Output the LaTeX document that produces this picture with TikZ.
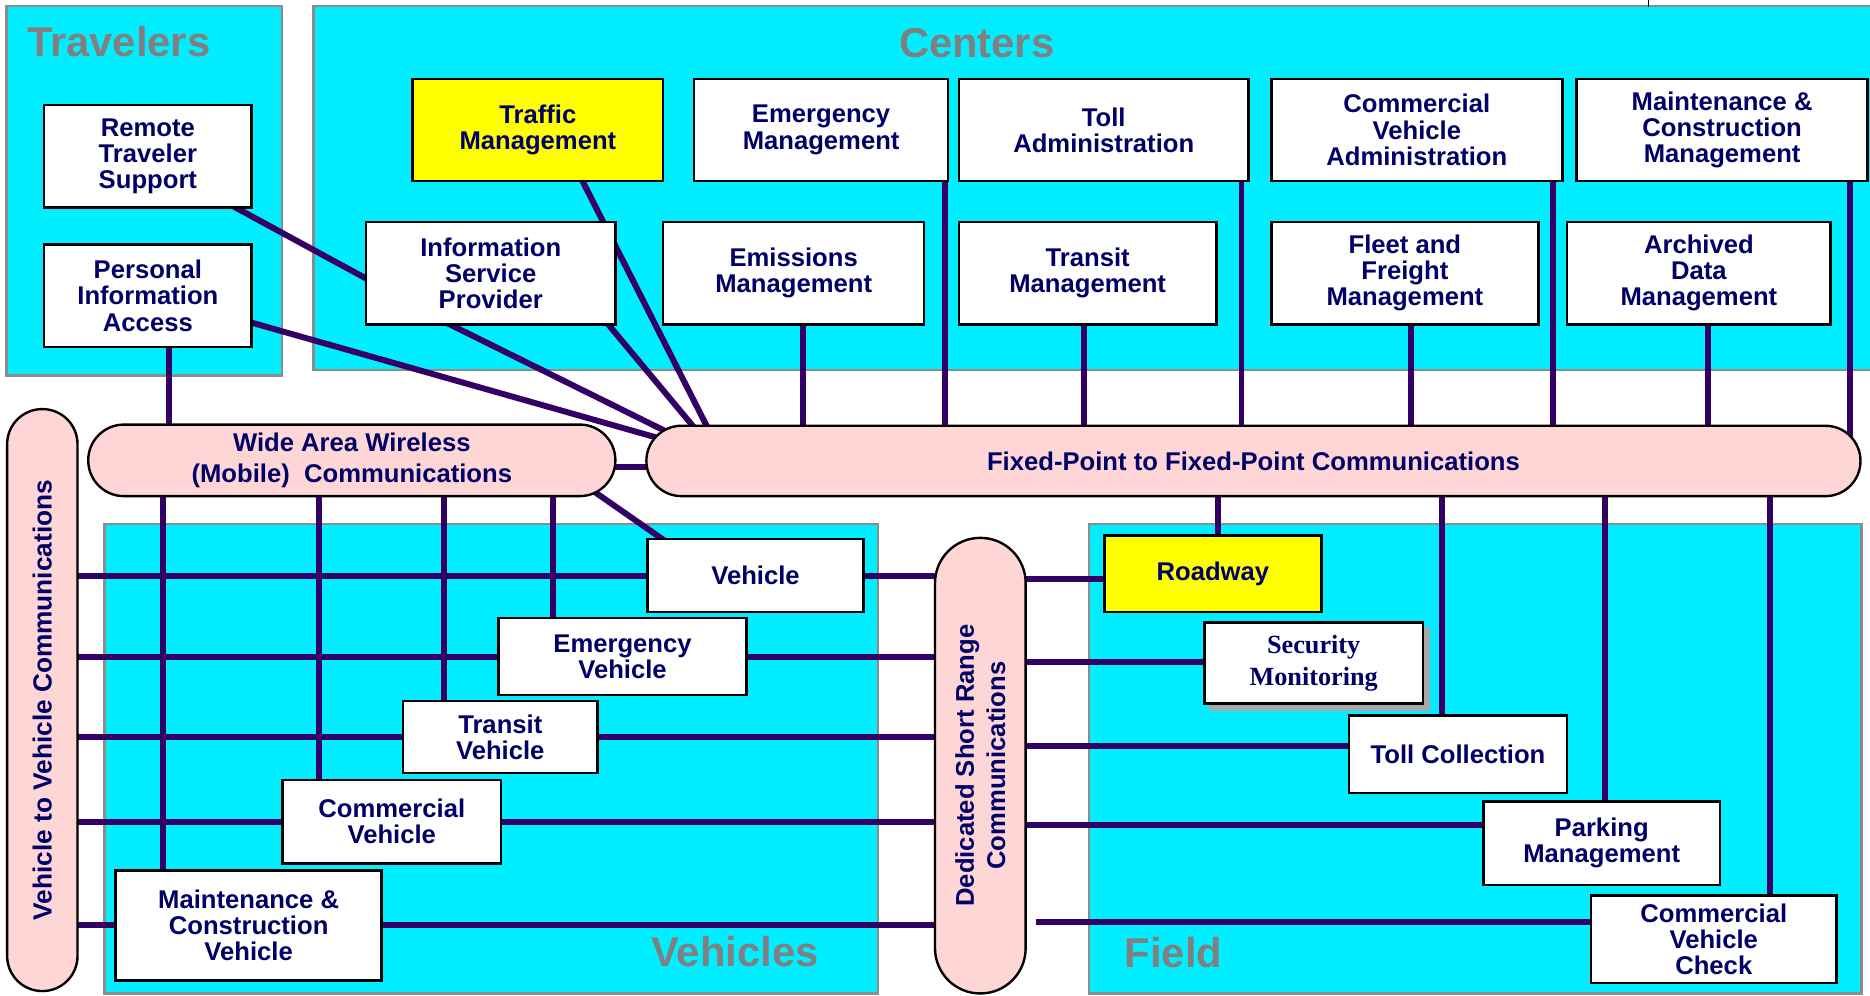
\documentclass[tikz,border=0pt]{standalone}
\usepackage{fontspec}
\setmainfont{Liberation Sans}
\newfontfamily\timesbf{Liberation Serif}
\usetikzlibrary{calc}

\definecolor{panelcyan}{HTML}{00EEFF}
\definecolor{panelrule}{HTML}{8C8C8C}
\definecolor{pillpink}{HTML}{FFD6D6}
\definecolor{linkpurple}{HTML}{330066}
\definecolor{labelnavy}{HTML}{000066}
\definecolor{titlegray}{HTML}{808080}
\definecolor{hiyellow}{HTML}{FFFF00}
\definecolor{shadowgray}{HTML}{A8A8A8}

\pgfdeclarelayer{panels}
\pgfdeclarelayer{links}
\pgfsetlayers{panels,links,main}

\tikzset{
  panel/.style={fill=panelcyan, draw=panelrule, line width=2pt},
  paneltitle/.style={anchor=base west, text=titlegray, inner sep=0pt,
    font=\fontsize{35}{35}\selectfont\bfseries},
  unit/.style={draw=black, line width=2pt, fill=white, text=labelnavy,
    align=center, inner sep=0pt, font=\fontsize{21.5}{22}\selectfont\bfseries},
  keyunit/.style={unit, fill=hiyellow},
  pill/.style={draw=black, line width=2pt, fill=pillpink, text=labelnavy,
    align=center, inner sep=0pt, font=\fontsize{21.5}{26}\selectfont\bfseries},
  link/.style={draw=linkpurple, line width=5pt},
}

% vertical link: x taken from anchor #1 shifted by #2, running from node #3 to that anchor
\newcommand\droplink[3]{%
  \draw[link] let \p1=($(#1)+(#2,0)$), \p2=(#3) in (\x1,\y2) -- (\x1,\y1);}
% horizontal link: from x of #1 to x of #2, at the height of #3 shifted by #4
\newcommand\crosslink[4]{%
  \draw[link] let \p1=(#1), \p2=(#2), \p3=($(#3)+(0,#4)$) in (\x1,\y3) -- (\x2,\y3);}

\begin{document}
\begin{tikzpicture}[x=1pt, y=-1pt]
\useasboundingbox (0,0) rectangle (1568,835);

% ---------- panels ----------
\begin{pgfonlayer}{panels}
  \draw[panel] (5.6,5) rectangle (236.6,315);
  \draw[panel] (263,5) rectangle (1580,310);
  \draw[panel] (87.5,439.5) rectangle (736,833);
  \draw[panel] (913,439.5) rectangle (1561,833);
\end{pgfonlayer}
\draw[line width=0.8pt] (1382,0) -- (1382,5.5);

\node[paneltitle] (tTrav) at (22.5,47.5) {Travelers};
\node[paneltitle, anchor=base] (tCent) at (819,48) {Centers};
\node[paneltitle] (tVeh) at (546,810) {Vehicles};
\node[paneltitle] (tField) at (943,811) {Field};

% ---------- travelers ----------
\node[unit, minimum width=174pt, minimum height=86pt] (rts) at (124,131) {Remote\\Traveler\\Support};
\node[unit, minimum width=174pt, minimum height=86pt] (pia) at (124,248) {Personal\\Information\\Access};

% ---------- centers ----------
\node[keyunit, minimum width=210pt, minimum height=86pt] (traffic) at (451,109) {Traffic\\Management};
\node[unit, minimum width=213pt, minimum height=86pt] (emm) at (688.5,109) {Emergency\\Management};
\node[unit, minimum width=243pt, minimum height=86pt] (tolla) at (925.5,109) {Toll\\Administration};
\node[unit, minimum width=244pt, minimum height=86pt] (cva) at (1188,109) {Commercial\\Vehicle\\Administration};
\node[unit, minimum width=244pt, minimum height=86pt] (mcm) at (1444,109) {Maintenance \&\\Construction\\Management};

\node[unit, minimum width=209pt, minimum height=86pt] (isp) at (411.5,229) {Information\\Service\\Provider};
\node[unit, minimum width=219pt, minimum height=86pt] (emis) at (665.5,229) {Emissions\\Management};
\node[unit, minimum width=216pt, minimum height=86pt] (transm) at (912,229) {Transit\\Management};
\node[unit, minimum width=224pt, minimum height=86pt] (fleet) at (1178,229) {Fleet and\\Freight\\Management};
\node[unit, minimum width=221pt, minimum height=86pt] (arch) at (1424.5,229) {Archived\\Data\\Management};

% ---------- communications ----------
\node[pill, rotate=90, minimum width=488pt, minimum height=59pt, rounded corners=29.4pt,
      font=\fontsize{22}{26}\selectfont\bfseries] (v2v) at (35.5,587) {Vehicle to Vehicle Communications};
\node[pill, minimum width=442pt, minimum height=60pt, rounded corners=29.9pt] (wide) at (295,386) {Wide Area Wireless\\(Mobile)~ Communications};
\node[pill, minimum width=1018pt, minimum height=59pt, rounded corners=29.4pt] (fixed) at (1051,386.5) {Fixed-Point to Fixed-Point Communications};
\node[pill, rotate=90, minimum width=382pt, minimum height=76pt, rounded corners=37.9pt] (dsrc) at (822,642) {Dedicated Short Range\\Communications};

% ---------- vehicles ----------
\node[unit, minimum width=181pt, minimum height=61pt] (veh) at (633.5,482.5) {Vehicle};
\node[unit, minimum width=208pt, minimum height=65pt] (ev) at (522,550.5) {Emergency\\Vehicle};
\node[unit, minimum width=163pt, minimum height=60pt] (tv) at (419.5,618) {Transit\\Vehicle};
\node[unit, minimum width=183pt, minimum height=70pt] (cv) at (328.5,689) {Commercial\\Vehicle};
\node[unit, minimum width=223pt, minimum height=92pt] (mcv) at (208.5,776) {Maintenance \&\\Construction\\Vehicle};

% ---------- field ----------
\node[keyunit, minimum width=182pt, minimum height=64pt] (road) at (1017,481) {Roadway};
\node[unit, minimum width=183pt, minimum height=68pt, font=\fontsize{22}{27}\selectfont\timesbf\bfseries] (sec) at (1101.5,556) {Security\\Monitoring};
\node[unit, minimum width=183pt, minimum height=65pt] (tollc) at (1222.5,632.5) {Toll Collection};
\node[unit, minimum width=198pt, minimum height=70pt] (park) at (1343,707) {Parking\\Management};
\node[unit, minimum width=206pt, minimum height=73pt] (cvc) at (1437,787.5) {Commercial\\Vehicle\\Check};

% ---------- links ----------
\begin{pgfonlayer}{links}
  % travelers and centers into the fixed-point network
  \draw[link] ($(rts.south east)+(-25,-6.7)$) -- ($(isp.west)+(5,6.7)$);
  \draw[link] ($(pia.south east)+(-11,-24.3)$) -- ($(fixed.north west)+(10,11)$);
  \draw[link] ($(isp.south)+(-41.5,-4.5)$) -- ($(fixed.north west)+(16,5)$);
  \draw[link] ($(isp.south east)+(-11,-5.8)$) -- ($(fixed.north west)+(42,3.6)$);
  \draw[link] ($(traffic.south)+(35,-6)$) -- ($(fixed.north west)+(53,4)$);
  \droplink{emm.south east}{-4}{fixed.center}
  \droplink{tolla.south east}{-7}{fixed.center}
  \droplink{cva.south east}{-9}{fixed.center}
  \droplink{mcm.south east}{-16}{fixed.center}
  \droplink{emis.south}{7.5}{fixed.center}
  \droplink{transm.south}{-3}{fixed.center}
  \droplink{fleet.south}{5}{fixed.center}
  \droplink{arch.south}{7.5}{fixed.center}
  \droplink{pia.south}{17.5}{wide.center}

  % wide area wireless
  \draw[link] ($(wide.east)+(-20,5.7)$) -- ($(fixed.west)+(20,5.2)$);
  \draw[link] ($(wide.south east)+(-26,-9.8)$) -- ($(veh.north west)+(22,7)$);
  \droplink{mcv.center}{-71.5}{wide.center}
  \droplink{cv.center}{-60.8}{wide.center}
  \droplink{tv.center}{-47}{wide.center}
  \droplink{ev.center}{-58}{wide.center}

  % vehicle to vehicle and short range links
  \crosslink{v2v.center}{dsrc.center}{veh.center}{0.5}
  \crosslink{v2v.center}{dsrc.center}{ev.center}{0}
  \crosslink{v2v.center}{dsrc.center}{tv.center}{0}
  \crosslink{v2v.center}{dsrc.center}{cv.center}{0}
  \crosslink{v2v.center}{dsrc.center}{mcv.center}{0}

  \crosslink{dsrc.center}{road.center}{road.center}{4.5}
  \crosslink{dsrc.center}{sec.center}{sec.center}{-1}
  \crosslink{dsrc.center}{tollc.center}{tollc.center}{-7}
  \crosslink{dsrc.center}{park.center}{park.center}{-15}
  % this one stops short of the short range pill
  \draw[link] let \p1=(dsrc.south), \p2=(cvc.center) in
    (\x1+8pt,\y2+14.5pt) -- (\x2,\y2+14.5pt);

  % fixed-point links down to the field
  \droplink{road.center}{4}{fixed.center}
  \droplink{tollc.center}{-13}{fixed.center}
  \droplink{park.center}{3}{fixed.center}
  \droplink{cvc.center}{47}{fixed.center}

  % shadow under security monitoring
  \fill[shadowgray] ($(sec.north west)+(5,5)$) rectangle ($(sec.south east)+(5,5)$);
\end{pgfonlayer}
\end{tikzpicture}
\end{document}
